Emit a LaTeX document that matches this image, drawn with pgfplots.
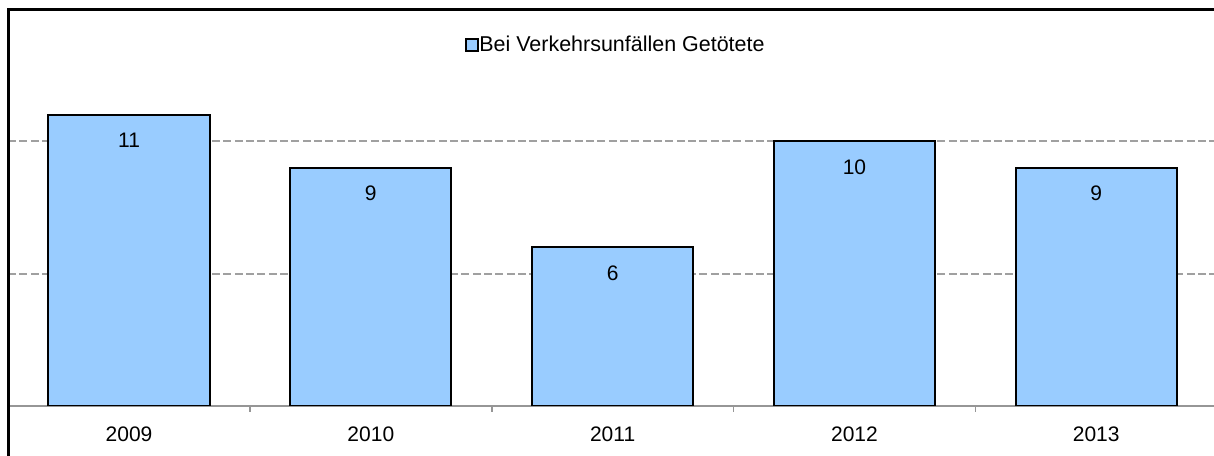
\documentclass[border=0pt]{standalone}
\usepackage{pgfplots}
\pgfplotsset{compat=1.18}
\usepackage{fontspec}
\setmainfont{Liberation Sans}
\definecolor{barblue}{HTML}{99CCFF}
\definecolor{gridgray}{HTML}{A0A0A0}
\definecolor{axisgray}{HTML}{969696}
\begin{document}
\begin{tikzpicture}
\path[use as bounding box] (0pt,0pt) rectangle (910.5pt,342pt);
\begin{axis}[
  at={(6.1pt,37.5pt)}, anchor=south west,
  scale only axis, width=906.75pt, height=298.1pt,
  xmin=-0.5, xmax=4.5, ymin=0, ymax=15,
  axis x line*=bottom, axis y line*=left,
  x axis line style={axisgray, line width=1.5pt, -},
  y axis line style={draw=none},
  xtick={0,1,2,3,4},
  xticklabels={2009,2010,2011,2012,2013},
  major x tick style={draw=none},
  minor xtick={0.5,1.5,2.5,3.5},
  minor x tick style={axisgray, line width=1.2pt},
  minor tick length=4.5pt,
  xtick align=outside,
  ytick={5,10,15},
  yticklabels={},
  major y tick style={draw=none},
  ymajorgrids,
  y grid style={gridgray, dash pattern=on 6pt off 2.5pt, line width=1.5pt},
  tick label style={font=\fontsize{15.75}{18}\selectfont},
  xticklabel style={yshift=-8pt},
  /pgf/number format/assume math mode=true,
  ybar, bar width=0.667,
  nodes near coords,
  every node near coord/.append style={font=\fontsize{15.75}{18}\selectfont, anchor=center, yshift=-19.5pt},
  legend style={at={(0.503,0.909)}, anchor=center, draw=none, fill=none,
    font=\fontsize{16.1}{18}\selectfont, inner sep=0pt},
  legend image code/.code={\draw[#1, line width=1.5pt] (0pt,-4.5pt) rectangle (9pt,4.5pt);},
  legend cell align=left,
]
\addplot[draw=black, fill=barblue, line width=1.5pt] coordinates {(0,11) (1,9) (2,6) (3,10) (4,9)};
\addlegendentry{\hspace{-2pt}Bei Verkehrsunfällen Getötete}
\end{axis}
\draw[line width=2.25pt] (6.375pt,-10pt) -- (6.375pt,334.9pt) -- (920pt,334.9pt);
\end{tikzpicture}
\end{document}
